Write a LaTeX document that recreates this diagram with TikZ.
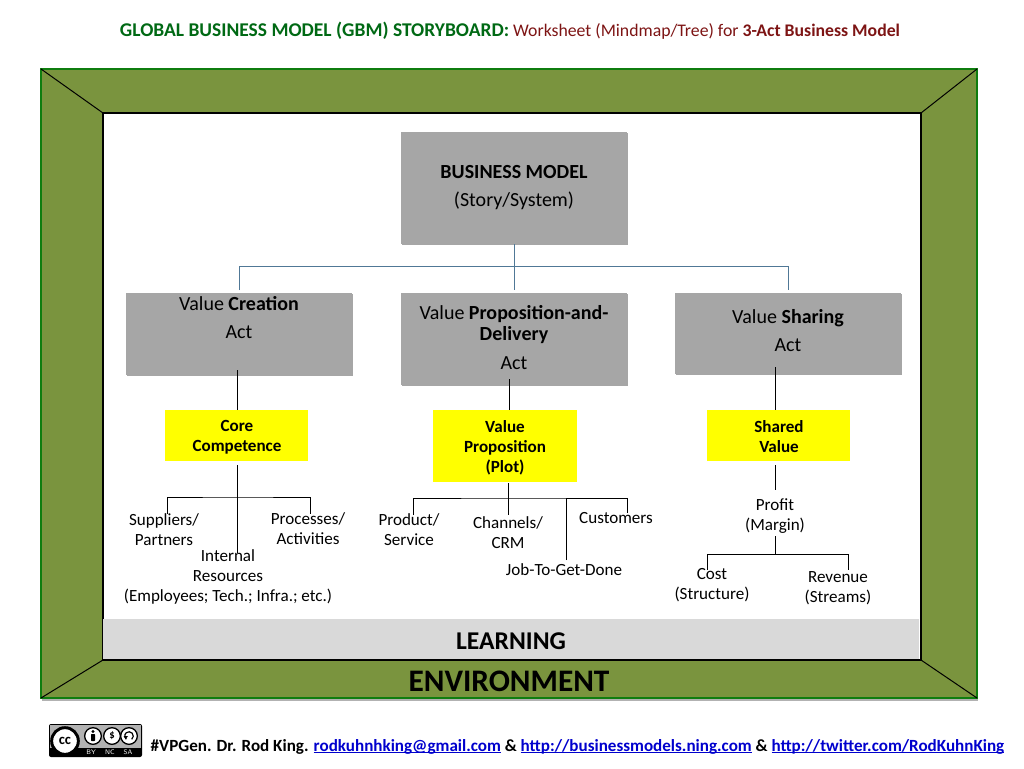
\documentclass[tikz,border=0pt]{standalone}
\usepackage{fontspec}
\setmainfont{Carlito}
\usetikzlibrary{shadows}
\usetikzlibrary{calc}
\definecolor{frameolive}{RGB}{122,148,62}
\definecolor{framegreen}{RGB}{15,125,15}
\definecolor{actgray}{RGB}{166,166,166}
\definecolor{learngray}{RGB}{217,217,217}
\definecolor{treeblue}{RGB}{80,120,150}
\definecolor{titlegreen}{RGB}{0,105,20}
\definecolor{titlered}{RGB}{125,20,20}
\definecolor{linkblue}{RGB}{0,0,205}
\definecolor{coreyellow}{RGB}{255,255,0}
\newcommand{\lnk}[1]{\textcolor{linkblue}{\setbox0\hbox{#1}\rlap{\rule[-1.3pt]{\wd0}{0.6pt}}\box0}}
\tikzset{softshadow/.style={drop shadow={shadow xshift=0.6pt,shadow yshift=-0.9pt,opacity=0.35,fill=black}}}
\tikzset{frameshadow/.style={drop shadow={shadow xshift=0.8pt,shadow yshift=-2.4pt,opacity=0.3,fill=black}}}
\tikzset{actblock/.style={rectangle,fill=actgray,minimum width=169.5pt,softshadow,inner sep=0pt}}
\tikzset{coreblock/.style={rectangle,fill=coreyellow,minimum width=107.5pt,inner sep=0pt}}
\tikzset{acttxt/.style={align=center,inner sep=0pt,font=\fontsize{15}{21}\selectfont}}
\tikzset{coretxt/.style={align=center,inner sep=0pt,font=\fontsize{12.8}{15}\selectfont\bfseries}}
\tikzset{item/.style={align=center,inner sep=0pt,font=\fontsize{12.8}{15}\selectfont}}
\tikzset{line/.style={black,line width=0.75pt}}
\tikzset{treeline/.style={treeblue,line width=0.75pt}}
\tikzset{badge/.style={circle,draw=black,fill=white,inner sep=0pt}}
\begin{document}
\begin{tikzpicture}[x=0.75pt,y=-0.75pt]
  \useasboundingbox (0,0) rectangle (1024,768);

  % Title
  \node[inner sep=0pt,font=\fontsize{13.3}{15}\selectfont] (title) at (510,31)
    {\textcolor{titlegreen}{\bfseries\fontsize{14.6}{15}\selectfont GLOBAL BUSINESS MODEL (GBM) STORYBOARD:} \textcolor{titlered}{Worksheet (Mindmap/Tree) for \textbf{3-Act Business Model}}};

  % Frame
  \draw[framegreen,fill=frameolive,line width=2.2pt,frameshadow] (41,69) rectangle (977,698);
  \draw[black,fill=white,line width=0.8pt] (103,113) rectangle (921,660);
  \foreach \ox/\oy/\ix/\iy in {41/69/103/113,977/69/921/113,41/698/103/660,977/698/921/660}
  {
    \draw[line] (\ox,\oy) -- (\ix,\iy);
  }
  \fill[learngray] (102.5,619) rectangle (919,659.4);
  \node[inner sep=0pt,font=\fontsize{19.2}{22}\selectfont\bfseries] (learning) at (511,641.5) {LEARNING};
  \node[inner sep=0pt,font=\fontsize{23.5}{26}\selectfont\bfseries] (environment) at (509,681.5) {ENVIRONMENT};

  % Acts
  \node[actblock,minimum height=84pt] (model) at (514,188) {};
  \node[actblock,minimum height=61.5pt] (creation) at (239,334) {};
  \node[actblock,minimum height=69pt] (proposition) at (514,339) {};
  \node[actblock,minimum height=60.75pt] (sharing) at (788,333) {};
  \node[acttxt] (modeltxt) at (514,188) {\textbf{BUSINESS MODEL}\\(Story/System)};
  \node[acttxt] (creationtxt) at (239,317.5) {Value \textbf{Creation}\\Act};
  \node[acttxt] (propositiontxt) at (514,337.5) {Value \textbf{Proposition-and-}\\[-5pt]\textbf{Delivery}\\[1pt]Act};
  \node[acttxt] (sharingtxt) at (788,331) {Value \textbf{Sharing}\\Act};

  % Core blocks
  \node[coreblock,minimum height=38.25pt] (core) at (236.5,435.5) {};
  \node[coreblock,minimum height=54pt] (plot) at (505,446) {};
  \node[coreblock,minimum height=38.25pt] (shared) at (778.5,435.5) {};
  \node[coretxt] (coretxt) at (237,437.5) {Core\\Competence};
  \node[coretxt] (plottxt) at (505,447.5) {Value\\Proposition\\(Plot)};
  \node[coretxt] (sharedtxt) at (779,437) {Shared\\Value};

  % Items
  \node[item] (suppliers) at (164,530) {Suppliers/\\Partners};
  \node[item] (processes) at (308,528.5) {Processes/\\Activities};
  \node[item] (internal) at (228,577) {Internal\\Resources\\(Employees; Tech.; Infra.; etc.)};
  \node[item] (product) at (409,529.5) {Product/\\Service};
  \node[item] (channels) at (508,532.5) {Channels/\\CRM};
  \node[item] (job) at (564,569.5) {Job-To-Get-Done};
  \node[item] (customers) at (616,518.5) {Customers};
  \node[item] (profit) at (775,516.5) {Profit\\(Margin)};
  \node[item] (cost) at (712,585.5) {Cost\\(Structure)};
  \node[item] (revenue) at (838,588.5) {Revenue\\(Streams)};

  % Tree ends
  \coordinate (modelbar) at (514,266);
  \coordinate (creationend) at (237.5,370);
  \coordinate (propositionend) at (509,379);
  \coordinate (sharingend) at (775,367);
  \coordinate (corebar) at (237,497);
  \coordinate (coretop) at (237,465);
  \coordinate (internalend) at (237,553);
  \coordinate (suppliersend) at (167,514);
  \coordinate (processesend) at (310,514);
  \coordinate (plotbar) at (508,498);
  \coordinate (plottop) at (508,483);
  \coordinate (channelsend) at (508,515);
  \coordinate (productend) at (413,515);
  \coordinate (jobend) at (566,560);
  \coordinate (customersend) at (627,513);
  \coordinate (sharedtop) at (775,465);
  \coordinate (profitend) at (775,490);
  \coordinate (profitbottom) at (775,536);
  \coordinate (profitbar) at (775,554);
  \coordinate (costend) at (707,570);
  \coordinate (revenueend) at (848,570);

  % Connectors
  \draw[treeline,shorten >=2pt] (model.south) -- (proposition.north);
  \draw[treeline,shorten <=2pt,shorten >=2pt] (creation.north) -- (creation.north |- modelbar) -- (sharing.north |- modelbar) -- (sharing.north);
  \draw[line] (creationend) -- (creationend |- core.north);
  \draw[line] (propositionend) -- (propositionend |- plot.north);
  \draw[line] (sharingend) -- (sharingend |- shared.north);
  \draw[line] (coretop) -- (internalend);
  \draw[line] (suppliersend) |- (corebar) -| (processesend);
  \draw[line] (plottop) -- (channelsend);
  \draw[line] (productend) |- (plotbar) -| (customersend);
  \draw[line] (jobend) -- (jobend |- plotbar);
  \draw[line] (sharedtop) -- (profitend);
  \draw[line] (profitbottom) -- (profitbar);
  \draw[line] (costend) |- (profitbar) -| (revenueend);

  % Licence mark
  \fill[rounded corners=1.5pt,fill=black] (49,724) rectangle (142,757);
  \fill[fill=black!30] (50,725) rectangle (141,748);
  \node[badge,line width=2.2pt,minimum size=20pt,font=\fontsize{11}{11}\selectfont\bfseries] (cc) at (65,741) {cc};
  \node[badge,line width=1pt,minimum size=12.5pt] (by) at (93,736) {};
  \node[badge,line width=1pt,minimum size=12.5pt,font=\fontsize{8}{8}\selectfont\bfseries] (nc) at (112,736) {\$};
  \node[badge,line width=1pt,minimum size=12.5pt] (sa) at (129,736) {};
  \fill (93,731.5) circle (1.3pt);
  \fill[rounded corners=0.5pt] (91,734) rectangle (95,741);
  \draw[line width=0.9pt] (129,736) ++(-50:3.2pt) arc (-50:230:3.2pt);
  \fill (123.5,736) -- (128,736) -- (125.8,739) -- cycle;
  \foreach \bx/\blabel in {91/BY,110/NC,128/SA}
  {
    \node[inner sep=0pt,white,font=\fontsize{5}{5}\selectfont\sffamily] (lic\blabel) at (\bx,752.5) {\blabel};
  }

  % Footer
  \node[inner sep=0pt,font=\fontsize{12.8}{15}\selectfont\bfseries] (footer) at (577.5,747)
    {\#VPGen. Dr. Rod King. \lnk{rodkuhnhking@gmail.com} \& \lnk{http://businessmodels.ning.com} \& \lnk{http://twitter.com/RodKuhnKing}};
\end{tikzpicture}
\end{document}
